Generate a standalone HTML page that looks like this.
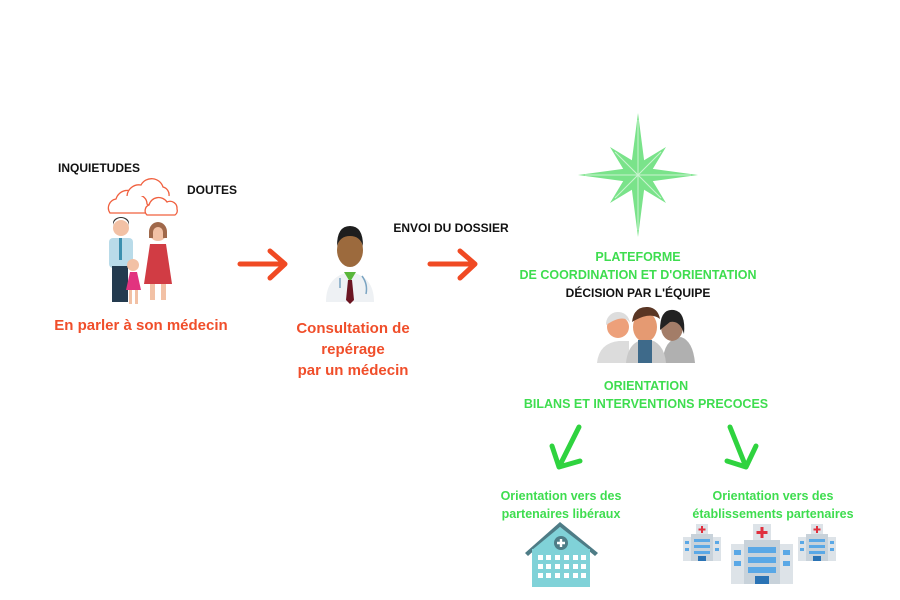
<!DOCTYPE html>
<html><head><meta charset="utf-8"><style>
html,body{margin:0;padding:0;background:#fff;}
#c{position:relative;width:900px;height:600px;overflow:hidden;font-family:"Liberation Sans",sans-serif;font-weight:bold;}
.t{position:absolute;white-space:nowrap;transform:translateX(-50%);text-align:center;line-height:1;}
.k{color:#111;font-size:12px;}
.o{color:#f04e2a;font-size:15px;}
.g{color:#3edd4f;font-size:12.5px;}
svg{position:absolute;left:0;top:0;}
</style></head><body><div id="c">
<svg width="900" height="600" viewBox="0 0 900 600">
<!-- clouds -->
<g fill="#fff" stroke="#f0603f" stroke-width="1.3">
<path d="M110 213 a9 9 0 0 1 6-14 a12 12 0 0 1 21-4 a9 9 0 0 1 10 9 a5 5 0 0 1 -1 9 z"/>
<path d="M127 196 a12 12 0 0 1 14-11 a12 12 0 0 1 22 2 a8 8 0 0 1 6 9"/>
<path d="M147 215 a6 6 0 0 1 2-10 a10 10 0 0 1 18-3 a7 7 0 0 1 10 7 a5 5 0 0 1 -2 6 z"/>
</g>
<!-- family -->
<circle cx="121" cy="228" r="8" fill="#f2c1a5"/><path d="M113 226 a8 8 0 0 1 16 0 l0-3 a8 6 0 0 0 -16 0z" fill="#333"/>
<rect x="109" y="238" width="24" height="30" rx="4" fill="#b9dbe9"/>
<rect x="119" y="238" width="3" height="22" fill="#3b8fae"/>
<rect x="112" y="266" width="16" height="36" fill="#243b4f"/>
<circle cx="158" cy="232" r="9" fill="#f2c1a5"/><path d="M149 232 a9 10 0 0 1 18 0 l0 6 l-4 0 l0-6 a5 5 0 0 0 -10 0 l0 6 l-4 0z" fill="#a0684a"/>
<path d="M150 244 h16 l6 40 h-28z" fill="#d13c44"/>
<rect x="150" y="284" width="5" height="16" fill="#f2c1a5"/><rect x="161" y="284" width="5" height="16" fill="#f2c1a5"/>
<circle cx="133" cy="265" r="6" fill="#f2c1a5"/>
<path d="M126 290 l4-18 h7 l4 18z" fill="#e2337f"/>
<rect x="129" y="290" width="3" height="14" fill="#f2c1a5"/><rect x="135" y="290" width="3" height="14" fill="#f2c1a5"/>
<!-- arrows orange -->
<g stroke="#f04a23" stroke-width="5" fill="none" stroke-linecap="round" stroke-linejoin="round">
<path d="M240 264 H285 M270 251 L285 264 L270 278"/>
<path d="M430 264 H475 M460 251 L475 264 L460 278"/>
</g>
<!-- doctor -->
<path d="M326 302 q0-26 24-30 q24 4 24 30z" fill="#eef1f4"/>
<path d="M344 272 l6 10 l6-10z" fill="#59b63a"/>
<path d="M348 280 h4 l2 20 l-4 4 l-4-4z" fill="#6b1522"/>
<ellipse cx="350" cy="250" rx="13" ry="17" fill="#9c6a3d"/>
<path d="M337 246 q0-20 13-20 q13 0 13 20 q-3-10 -13-10 q-10 0 -13 10z" fill="#1e1e1e"/>
<path d="M340 278 v10 M362 276 q6 8 4 18" stroke="#7aa4c2" stroke-width="1.5" fill="none"/>
<!-- star -->
<polygon fill="#7ae38a" points="638,113 644.1,160.2 666,147 652.8,168.9 698,175 652.8,181.1 666,203 644.1,189.8 638,237 631.9,189.8 610,203 623.2,181.1 578,175 623.2,168.9 610,147 631.9,160.2"/>
<g stroke="#fff" stroke-width="1" opacity="0.6">
<path d="M638 120 V230 M585 175 H691 M615 152 L661 198 M661 152 L615 198"/>
</g>
<!-- team -->
<path d="M597 363 q2-20 22-22 h10 l0 22z" fill="#dcdcdc"/>
<circle cx="618" cy="327" r="11" fill="#eda07a"/><path d="M606 325 a12 12 0 0 1 24 -2 q-6-10 -24 2z" fill="#ddd"/>
<path d="M663 363 q0-24 18-26 q12 4 14 26z" fill="#b0b0b0"/>
<ellipse cx="672" cy="327" rx="11" ry="14" fill="#a37d68"/><path d="M660 330 q0-22 14-20 q12 2 10 24 q-4-14 -14-12z" fill="#222"/>
<path d="M626 363 q2-22 20-24 q18 2 20 24z" fill="#c9c9c9"/>
<ellipse cx="645" cy="327" rx="12" ry="15" fill="#e59a72"/><path d="M632 322 q2-16 16-15 q10 1 12 12 q-10-8 -28 3z" fill="#5a3624"/>
<rect x="638" y="340" width="14" height="23" fill="#3e6a8a"/>
<!-- green arrows -->
<g stroke="#2fd33f" stroke-width="5" fill="none" stroke-linecap="round" stroke-linejoin="round">
<path d="M579 427 L559 467 M552 446 L559 467 L580 461"/>
<path d="M730 427 L746 467 M727 461 L746 467 L756 446"/>
</g>
<!-- left hospital -->
<polygon points="525,553 560,522 598,553 595,556 560,527 528,556" fill="#4e7c86"/>
<rect x="532" y="549" width="58" height="38" fill="#80d2d8"/>
<polygon points="532,550 560,527 590,550" fill="#80d2d8"/>
<circle cx="561" cy="543" r="7" fill="#4e7c86"/><path d="M561 539 v8 M557 543 h8" stroke="#fff" stroke-width="2.4"/>
<g fill="#fff">
<rect x="538" y="555" width="5" height="5"/><rect x="546" y="555" width="5" height="5"/><rect x="555" y="555" width="5" height="5"/><rect x="564" y="555" width="5" height="5"/><rect x="573" y="555" width="5" height="5"/><rect x="581" y="555" width="5" height="5"/>
<rect x="538" y="564" width="5" height="5"/><rect x="546" y="564" width="5" height="5"/><rect x="555" y="564" width="5" height="5"/><rect x="564" y="564" width="5" height="5"/><rect x="573" y="564" width="5" height="5"/><rect x="581" y="564" width="5" height="5"/>
<rect x="538" y="573" width="5" height="5"/><rect x="546" y="573" width="5" height="5"/><rect x="555" y="573" width="5" height="5"/><rect x="564" y="573" width="5" height="5"/><rect x="573" y="573" width="5" height="5"/><rect x="581" y="573" width="5" height="5"/>
</g>
<!-- right hospitals -->
<g id="h1">
<rect x="696" y="524" width="12" height="10" fill="#dde3e8"/><path d="M702 526 v7 M698.5 529.5 h7" stroke="#e0303e" stroke-width="2"/>
<rect x="683" y="537" width="38" height="24" fill="#dde3e8"/>
<rect x="691" y="534" width="22" height="27" fill="#c8d2da"/>
<g fill="#5aa8e6"><rect x="694" y="539" width="16" height="3"/><rect x="694" y="545" width="16" height="3"/><rect x="694" y="551" width="16" height="3"/><rect x="685" y="541" width="4" height="3"/><rect x="685" y="548" width="4" height="3"/><rect x="715" y="541" width="4" height="3"/><rect x="715" y="548" width="4" height="3"/></g>
<rect x="698" y="556" width="8" height="5" fill="#2a73b5"/>
</g>
<use href="#h1" x="115" y="0"/>
<rect x="753" y="524" width="18" height="16" fill="#dde3e8"/><path d="M762 527 v11 M756.5 532.5 h11" stroke="#e0303e" stroke-width="3"/>
<rect x="731" y="544" width="62" height="40" fill="#dde3e8"/>
<rect x="744" y="540" width="36" height="44" fill="#c8d2da"/>
<g fill="#5aa8e6"><rect x="748" y="547" width="28" height="6"/><rect x="748" y="557" width="28" height="6"/><rect x="748" y="567" width="28" height="6"/><rect x="734" y="550" width="7" height="5"/><rect x="734" y="561" width="7" height="5"/><rect x="783" y="550" width="7" height="5"/><rect x="783" y="561" width="7" height="5"/></g>
<rect x="755" y="576" width="14" height="8" fill="#2a73b5"/>
</svg>
<div class="t k" style="left:99px;top:162px">INQUIETUDES</div>
<div class="t k" style="left:212px;top:184px">DOUTES</div>
<div class="t o" style="left:141px;top:318px">En parler à son médecin</div>
<div class="t o" style="left:353px;top:318px;line-height:21px">Consultation de<br>repérage<br>par un médecin</div>
<div class="t k" style="left:451px;top:222px">ENVOI DU DOSSIER</div>
<div class="t g" style="left:638px;top:248px;line-height:18px">PLATEFORME<br>DE COORDINATION ET D'ORIENTATION</div>
<div class="t k" style="left:638px;top:287px">DÉCISION PAR L'ÉQUIPE</div>
<div class="t g" style="left:646px;top:377px;line-height:18px">ORIENTATION<br>BILANS ET INTERVENTIONS PRECOCES</div>
<div class="t g" style="left:561px;top:487px;line-height:18px">Orientation vers des<br>partenaires libéraux</div>
<div class="t g" style="left:773px;top:487px;line-height:18px">Orientation vers des<br>établissements partenaires</div>
</div></body></html>
